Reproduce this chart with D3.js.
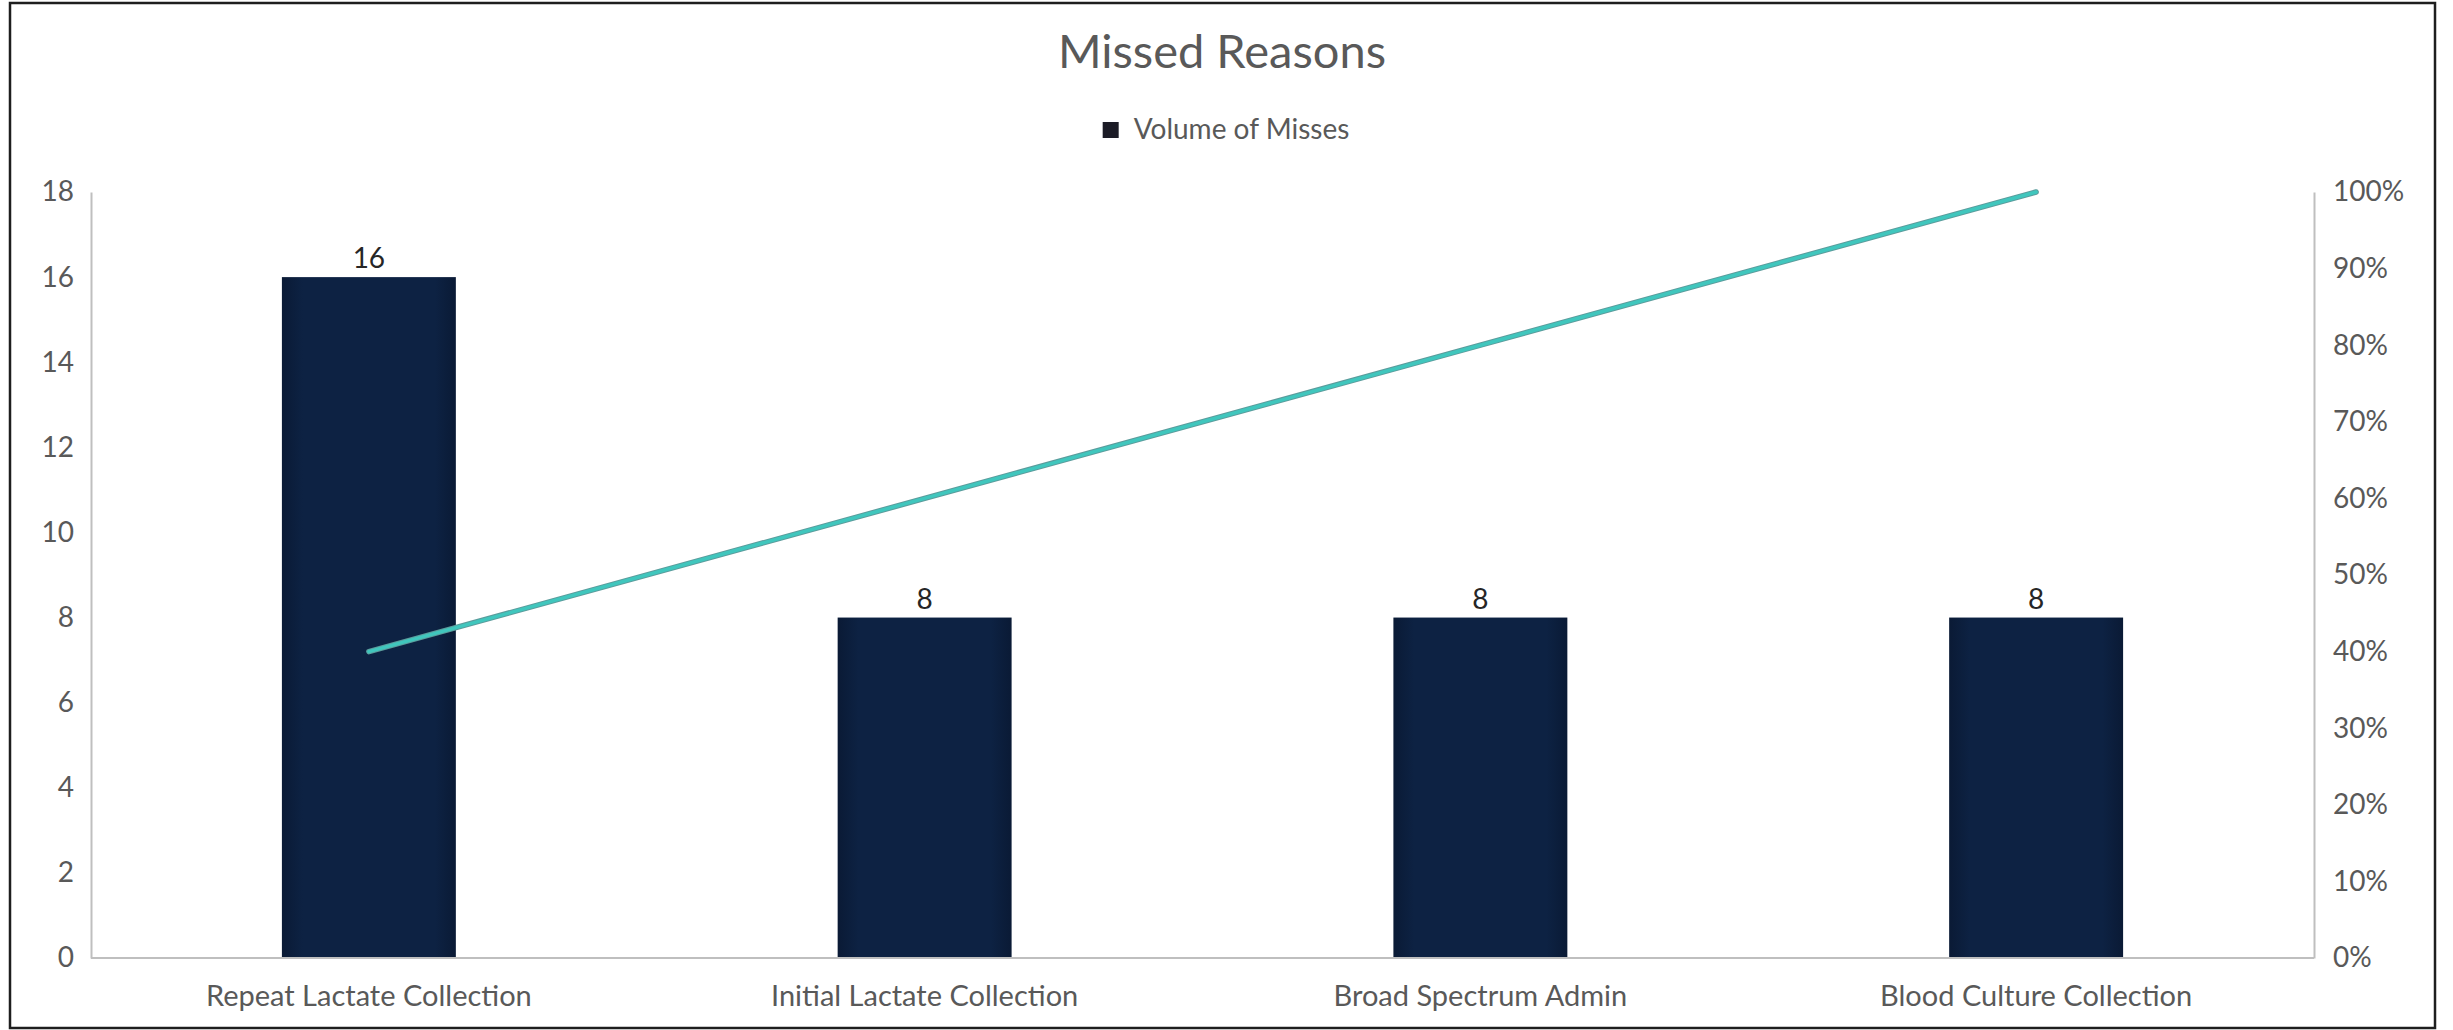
<!DOCTYPE html>
<html>
<head>
<meta charset="utf-8">
<script src="https://cdn.jsdelivr.net/npm/d3@7"></script>
<style>
  html, body { margin: 0; padding: 0; background: #ffffff; }
  svg { display: block; }
  text { font-family: Lato, "Open Sans", "DejaVu Sans", sans-serif; }
</style>
</head>
<body>
<svg id="chart" width="2453" height="1030"></svg>
<script>
// Pareto of missed reasons: volume bars plus cumulative share line
const categories = ["Repeat Lactate Collection", "Initial Lactate Collection", "Broad Spectrum Admin", "Blood Culture Collection"];
const misses = [16, 8, 8, 8];
const cumulativeShare = [0.40, 0.60, 0.80, 1.00];
const countTicks = [0, 2, 4, 6, 8, 10, 12, 14, 16, 18];
const shareTicks = [0, 0.1, 0.2, 0.3, 0.4, 0.5, 0.6, 0.7, 0.8, 0.9, 1.0];
const titleText = "Missed Reasons";
const legendText = "Volume of Misses";

const W = 2453, H = 1030;
const plot = { left: 91, right: 2314, top: 192, bottom: 958 };
const labelColor = "#595959";

const svg = d3.select("#chart");

svg.append("rect").attr("width", W).attr("height", H).attr("fill", "#ffffff");
svg.append("rect")
  .attr("x", 10).attr("y", 3).attr("width", 2425).attr("height", 1025)
  .attr("fill", "none").attr("stroke", "#1e1e1e").attr("stroke-width", 2.5);

// gradient giving the bars their soft darker edges
const defs = svg.append("defs");
const grad = defs.append("linearGradient").attr("id", "barFill")
  .attr("x1", "0%").attr("x2", "100%").attr("y1", "0%").attr("y2", "0%");
grad.append("stop").attr("offset", "0%").attr("stop-color", "#0a1a35");
grad.append("stop").attr("offset", "12%").attr("stop-color", "#0d2243");
grad.append("stop").attr("offset", "88%").attr("stop-color", "#0d2243");
grad.append("stop").attr("offset", "100%").attr("stop-color", "#0a1a35");

const x = d3.scaleBand()
  .domain(categories)
  .range([plot.left, plot.right])
  .paddingInner(0.687)
  .paddingOuter(0.3435);

const y = d3.scaleLinear().domain([0, 18]).range([plot.bottom, plot.top]);
const yShare = d3.scaleLinear().domain([0, 1]).range([plot.bottom, plot.top]);

// axes
const styleAxis = size => g => {
  g.select(".domain").attr("stroke", "#bfbfbf").attr("stroke-width", 2);
  g.selectAll("text").attr("fill", labelColor).attr("font-size", size);
};

svg.append("g")
  .attr("transform", `translate(${plot.left},0)`)
  .call(d3.axisLeft(y).tickValues(countTicks).tickSize(0).tickSizeOuter(0).tickPadding(17))
  .call(styleAxis(28));

svg.append("g")
  .attr("transform", `translate(${plot.right},0)`)
  .call(d3.axisRight(yShare).tickValues(shareTicks).tickFormat(d3.format(".0%")).tickSize(0).tickSizeOuter(0).tickPadding(19))
  .call(styleAxis(28));

// bars
svg.append("g").selectAll("rect")
  .data(categories)
  .join("rect")
  .attr("x", d => x(d))
  .attr("y", (d, i) => y(misses[i]))
  .attr("width", x.bandwidth())
  .attr("height", (d, i) => y(0) - y(misses[i]))
  .attr("fill", "url(#barFill)");

svg.append("g")
  .attr("transform", `translate(0,${plot.bottom})`)
  .call(d3.axisBottom(x).tickSize(0).tickSizeOuter(0).tickPadding(27))
  .call(styleAxis(29))
  .call(g => g.select(".domain").attr("d", `M${plot.left},0H${plot.right}`));

// value labels over bars
svg.append("g").selectAll("text")
  .data(categories)
  .join("text")
  .attr("x", d => x(d) + x.bandwidth() / 2)
  .attr("y", (d, i) => y(misses[i]) - 9)
  .attr("text-anchor", "middle")
  .attr("font-size", 28)
  .attr("fill", "#262626")
  .text((d, i) => misses[i]);

// cumulative share line
const line = d3.line()
  .x((d, i) => x(categories[i]) + x.bandwidth() / 2)
  .y(d => yShare(d));

svg.append("path")
  .datum(cumulativeShare)
  .attr("d", line)
  .attr("fill", "none")
  .attr("stroke", "#5b9c9c")
  .attr("stroke-width", 5.5)
  .attr("stroke-linecap", "round");
svg.append("path")
  .datum(cumulativeShare)
  .attr("d", line)
  .attr("fill", "none")
  .attr("stroke", "#40c6bd")
  .attr("stroke-width", 3.5)
  .attr("stroke-linecap", "round");

// title
svg.append("text")
  .attr("x", 1222).attr("y", 68)
  .attr("text-anchor", "middle")
  .attr("font-size", 47)
  .attr("fill", labelColor)
  .text(titleText);

// legend
const legend = svg.append("g");
const legendLabel = legend.append("text")
  .attr("y", 139)
  .attr("font-size", 28)
  .attr("fill", labelColor)
  .text(legendText);
const tw = legendLabel.node().getComputedTextLength();
const totalW = 16 + 15 + tw;
const lx = 1226 - totalW / 2;
legend.append("rect")
  .attr("x", lx).attr("y", 122).attr("width", 16).attr("height", 16)
  .attr("fill", "#1c1c26");
legendLabel.attr("x", lx + 31);
</script>
</body>
</html>
